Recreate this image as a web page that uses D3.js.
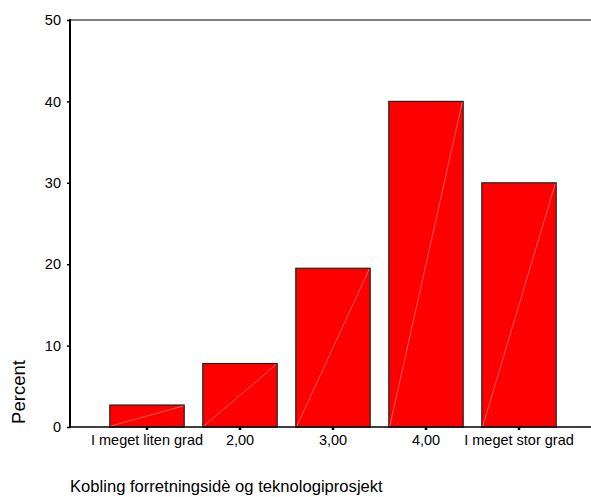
<!DOCTYPE html>
<html>
<head>
<meta charset="utf-8">
<script src="https://cdn.jsdelivr.net/npm/d3@7"></script>
<style>
  html, body { margin: 0; padding: 0; background: #fff; }
  svg { display: block; }
  text { font-family: "Liberation Sans", Arial, sans-serif; fill: #000; }
</style>
</head>
<body>
<svg id="chart" width="591" height="497"></svg>
<script>
const categories = ["I meget liten grad", "2,00", "3,00", "4,00", "I meget stor grad"];
const percentValues = [2.7, 7.8, 19.5, 40, 30];
const yTicks = [0, 10, 20, 30, 40, 50];
const yLabel = "Percent";
const xTitle = "Kobling forretningsidè og teknologiprosjekt";

const svg = d3.select("#chart");
const x0 = 70, xEnd = 591, yTop = 20, yBottom = 427;

const x = d3.scaleBand().domain(categories).range([100.5, 565.5]).paddingInner(0.2).paddingOuter(0.1);
const y = d3.scaleLinear().domain([0, 50]).range([yBottom, yTop]);

// top frame line
svg.append("line").attr("x1", x0).attr("x2", xEnd).attr("y1", y(50)).attr("y2", y(50))
  .attr("stroke", "#555").attr("stroke-width", 1.5);

// bars
const bars = svg.append("g");
categories.forEach((c, i) => {
  const v = percentValues[i];
  bars.append("rect")
    .attr("x", x(c)).attr("y", y(v))
    .attr("width", x.bandwidth()).attr("height", y(0) - y(v))
    .attr("fill", "#ff0000").attr("stroke", "#222").attr("stroke-width", 1.2);
  bars.append("line")
    .attr("x1", x(c) + 1).attr("y1", y(0) - 1)
    .attr("x2", x(c) + x.bandwidth() - 1).attr("y2", y(v) + 1)
    .attr("stroke", "#ff9c9c").attr("stroke-width", 0.6);
});

// y axis
const yAxis = d3.axisLeft(y).tickValues(yTicks).tickSize(3).tickPadding(6);
const gy = svg.append("g").attr("transform", `translate(${x0},0)`).call(yAxis);
gy.select(".domain").remove();
gy.selectAll(".tick line").attr("stroke", "#000").attr("stroke-width", 1.5);
gy.selectAll(".tick text").attr("font-size", 14.5).attr("font-family", "Liberation Sans, Arial, sans-serif").attr("fill", "#000");
svg.append("line").attr("x1", x0).attr("x2", x0).attr("y1", yTop - 1).attr("y2", yBottom + 1)
  .attr("stroke", "#000").attr("stroke-width", 2);

// x axis
const xAxis = d3.axisBottom(x).tickSize(3).tickPadding(5);
const gx = svg.append("g").attr("transform", `translate(0,${yBottom})`).call(xAxis);
gx.select(".domain").remove();
gx.selectAll(".tick line").attr("stroke", "#000").attr("stroke-width", 2.5);
gx.selectAll(".tick text").attr("font-size", 14.5).attr("font-family", "Liberation Sans, Arial, sans-serif").attr("fill", "#000");
svg.append("line").attr("x1", x0 - 1).attr("x2", xEnd).attr("y1", yBottom).attr("y2", yBottom)
  .attr("stroke", "#000").attr("stroke-width", 1.5);

// y label
svg.append("text")
  .attr("transform", "translate(25,392) rotate(-90)")
  .attr("text-anchor", "middle")
  .attr("font-size", 18.5)
  .text(yLabel);

// x title
svg.append("text")
  .attr("x", 70).attr("y", 492)
  .attr("font-size", 16.6)
  .text(xTitle);
</script>
</body>
</html>
